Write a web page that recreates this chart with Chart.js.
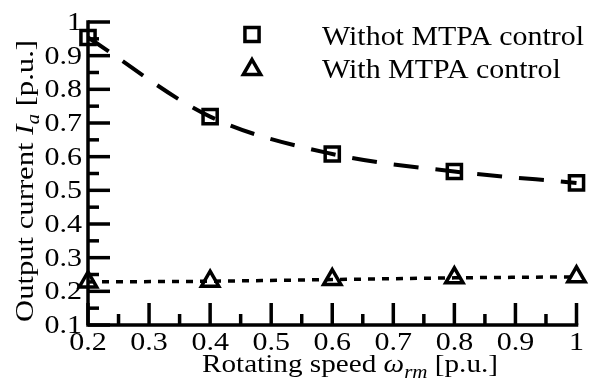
<!DOCTYPE html>
<html><head><meta charset="utf-8">
<script src="https://cdn.jsdelivr.net/npm/chart.js@4.4.0/dist/chart.umd.min.js"></script>
<style>html,body{margin:0;padding:0;background:#fff;} canvas{display:block;}</style>
</head><body>
<canvas id="c" width="590" height="387"></canvas>
<script>
// ---- data ----
const speeds = [0.2, 0.4, 0.6, 0.8, 1.0];
const currentWithoutMtpa = [0.954, 0.719, 0.608, 0.556, 0.522];
const currentWithMtpa = [0.228, 0.230, 0.235, 0.240, 0.243];
const seriesNames = ['Withot MTPA control', 'With MTPA control'];
const xMajorTicks = [0.2, 0.3, 0.4, 0.5, 0.6, 0.7, 0.8, 0.9, 1.0];
const xTickLabels = ['0.2', '0.3', '0.4', '0.5', '0.6', '0.7', '0.8', '0.9', '1'];
const xMinorTicks = [0.25, 0.35, 0.45, 0.55, 0.65, 0.75, 0.85, 0.95];
const yMajorTicks = [0.1, 0.2, 0.3, 0.4, 0.5, 0.6, 0.7, 0.8, 0.9, 1.0];
const yTickLabels = ['0.1', '0.2', '0.3', '0.4', '0.5', '0.6', '0.7', '0.8', '0.9', '1'];
const yMinorTicks = [0.15, 0.25, 0.35, 0.45, 0.55, 0.65, 0.75, 0.85, 0.95];

const FONT = '"Liberation Serif", "Times New Roman", serif';

function pts(xs, ys) { return xs.map((x, i) => ({ x: x, y: ys[i] })); }

function drawStretched(ctx, text, x, y, align, sx, font) {
  ctx.save();
  ctx.font = font;
  ctx.translate(x, y);
  ctx.scale(sx, 1);
  ctx.textAlign = align;
  ctx.textBaseline = 'alphabetic';
  ctx.fillText(text, 0, 0);
  ctx.restore();
}

function segFont(s, size) {
  const sz = s.sub ? Math.round(size * 0.7) : size;
  return (s.italic ? 'italic ' : '') + sz + 'px ' + FONT;
}
function drawRich(ctx, segs, cx, baseY, size, targetWidth) {
  ctx.save();
  let w = 0;
  segs.forEach(s => { ctx.font = segFont(s, size); s.w = ctx.measureText(s.t).width; w += s.w; });
  const sx = targetWidth / w;
  ctx.translate(cx - targetWidth / 2, baseY);
  ctx.scale(sx, 1);
  ctx.textAlign = 'left';
  ctx.textBaseline = 'alphabetic';
  let x = 0;
  segs.forEach(s => {
    ctx.font = segFont(s, size);
    ctx.fillText(s.t, x, s.sub ? size * 0.22 : 0);
    x += s.w;
  });
  ctx.restore();
}

function drawMarker(ctx, style, x, y, r, bw) {
  ctx.save();
  ctx.strokeStyle = '#000';
  ctx.lineWidth = bw;
  ctx.beginPath();
  if (style === 'rect') {
    const s = Math.SQRT1_2 * r;
    ctx.rect(x - s, y - s, 2 * s, 2 * s);
  } else {
    for (let k = 0; k < 3; k++) {
      const a = k * 2 * Math.PI / 3;
      const px = x + Math.sin(a) * r, py = y - Math.cos(a) * r;
      if (k === 0) ctx.moveTo(px, py); else ctx.lineTo(px, py);
    }
    ctx.closePath();
  }
  ctx.stroke();
  ctx.restore();
}

const decor = {
  id: 'decor',
  afterDraw(chart) {
    const ctx = chart.ctx;
    const xs = chart.scales.x, ys = chart.scales.y;
    const left = xs.getPixelForValue(0.2), right = xs.getPixelForValue(1.0);
    const bottom = ys.getPixelForValue(0.1), top = ys.getPixelForValue(1.0);
    ctx.save();
    ctx.strokeStyle = '#000';
    ctx.fillStyle = '#000';
    ctx.lineWidth = 3.5;
    ctx.lineCap = 'square';
    ctx.beginPath();
    ctx.moveTo(left, top); ctx.lineTo(left, bottom); ctx.lineTo(right, bottom);
    ctx.stroke();
    ctx.lineCap = 'butt';
    yMajorTicks.forEach(v => { const p = ys.getPixelForValue(v); ctx.beginPath(); ctx.moveTo(left, p); ctx.lineTo(left + 22, p); ctx.stroke(); });
    yMinorTicks.forEach(v => { const p = ys.getPixelForValue(v); ctx.beginPath(); ctx.moveTo(left, p); ctx.lineTo(left + 11, p); ctx.stroke(); });
    xMajorTicks.forEach(v => { const p = xs.getPixelForValue(v); ctx.beginPath(); ctx.moveTo(p, bottom); ctx.lineTo(p, bottom - 22); ctx.stroke(); });
    xMinorTicks.forEach(v => { const p = xs.getPixelForValue(v); ctx.beginPath(); ctx.moveTo(p, bottom); ctx.lineTo(p, bottom - 11); ctx.stroke(); });
    const tf = '25px ' + FONT;
    yMajorTicks.forEach((v, i) => drawStretched(ctx, yTickLabels[i], left - 6, ys.getPixelForValue(v) + 8, 'right', 1.2, tf));
    xMajorTicks.forEach((v, i) => drawStretched(ctx, xTickLabels[i], xs.getPixelForValue(v), bottom + 25, 'center', 1.2, tf));
    drawRich(ctx, [{ t: 'Rotating speed ' }, { t: 'ω', italic: true }, { t: 'rm', italic: true, sub: true }, { t: ' [p.u.]' }], 350, 372, 25, 296);
    ctx.save();
    ctx.translate(33, 181);
    ctx.rotate(-Math.PI / 2);
    drawRich(ctx, [{ t: 'Output current ' }, { t: 'I', italic: true }, { t: 'a', italic: true, sub: true }, { t: ' [p.u.]' }], 0, 0, 26, 282);
    ctx.restore();
    drawMarker(ctx, 'rect', 252, 34.5, 10, 3.5);
    drawMarker(ctx, 'triangle', 252, 69.5, 10, 3.5);
    const lf = '27px ' + FONT;
    ctx.font = lf;
    const w1 = ctx.measureText(seriesNames[0]).width;
    const lsx = 262 / w1;
    drawStretched(ctx, seriesNames[0], 322, 45, 'left', lsx, lf);
    drawStretched(ctx, seriesNames[1], 322, 78, 'left', lsx, lf);
    ctx.restore();
  }
};

new Chart(document.getElementById('c'), {
  type: 'line',
  data: {
    datasets: [
      {
        label: seriesNames[0],
        data: pts(speeds, currentWithoutMtpa),
        borderColor: '#000',
        borderWidth: 4,
        borderDash: [25, 17],
        cubicInterpolationMode: 'monotone',
        pointStyle: 'rect',
        pointRadius: 10,
        pointBorderWidth: 3.5,
        pointBorderColor: '#000',
        pointBackgroundColor: 'rgba(0,0,0,0)',
        fill: false,
        clip: false
      },
      {
        label: seriesNames[1],
        data: pts(speeds, currentWithMtpa),
        borderColor: '#000',
        borderWidth: 3.5,
        borderDash: [7, 7],
        cubicInterpolationMode: 'monotone',
        pointStyle: 'triangle',
        pointRadius: 10,
        pointBorderWidth: 3.5,
        pointBorderColor: '#000',
        pointBackgroundColor: 'rgba(0,0,0,0)',
        fill: false,
        clip: false
      }
    ]
  },
  options: {
    responsive: false,
    animation: false,
    devicePixelRatio: 1,
    layout: { padding: { left: 0, top: 22, right: 11, bottom: 0 } },
    plugins: { legend: { display: false }, tooltip: { enabled: false } },
    scales: {
      x: {
        type: 'linear', min: 0.2, max: 1.0,
        grid: { display: false }, border: { display: false },
        ticks: { display: false },
        afterFit: s => { s.height = 62; }
      },
      y: {
        type: 'linear', min: 0.1, max: 1.0,
        grid: { display: false }, border: { display: false },
        ticks: { display: false },
        afterFit: s => { s.width = 88; }
      }
    }
  },
  plugins: [decor]
});
</script>
</body></html>
